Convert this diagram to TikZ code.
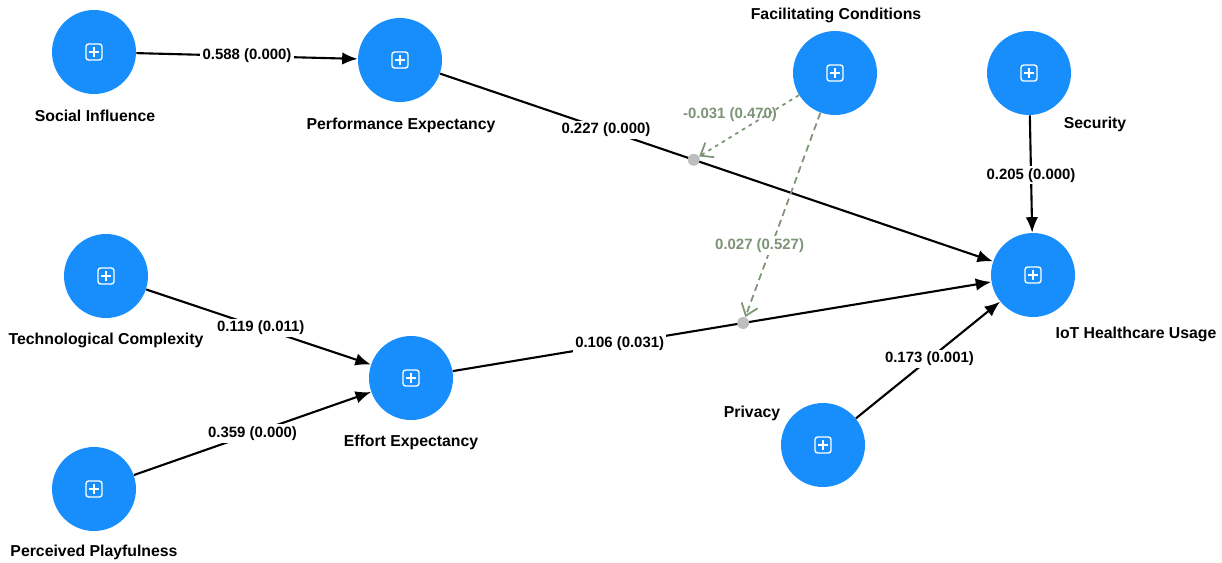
\documentclass[tikz,border=0pt]{standalone}
\usepackage{fontspec}
\setmainfont{Liberation Sans}
\usepackage{tikz}
\usetikzlibrary{arrows.meta,calc,positioning}
\definecolor{latent}{RGB}{24,142,252}
\definecolor{modgreen}{RGB}{125,148,118}
\definecolor{dotgray}{RGB}{190,190,190}

\begin{document}
\begin{tikzpicture}[x=0.02cm, y=-0.02cm, line join=round, >=Latex,
    construct/.style={circle, fill=latent, draw=none, minimum size=1.68cm, inner sep=0pt},
    cname/.style={font=\fontsize{9}{10}\selectfont\bfseries, text=black},
    elabel/.style={font=\fontsize{8.5}{10}\selectfont\bfseries, fill=white, inner sep=1.2pt, text=black},
    mlabel/.style={elabel, text=modgreen},
    path/.style={line width=1.2pt, black, -{Latex[length=3.1mm,width=2.5mm]}},
    moddot/.style={circle, minimum size=0.24cm, inner sep=0pt},
    modpath/.style={line width=1pt, modgreen, -{Straight Barb[length=2.2mm,width=3.4mm]}}]
    \useasboundingbox (0,0) rectangle (1222,562);

    % latent variables
    \node[construct] (SI) at (94,52) {};
    \node[construct] (PE) at (400,60) {};
    \node[construct] (FC) at (835,73) {};
    \node[construct] (SEC) at (1029,73) {};
    \node[construct] (IOT) at (1033,275) {};
    \node[construct] (TC) at (106,276) {};
    \node[construct] (EE) at (411,378) {};
    \node[construct] (PRI) at (823,445) {};
    \node[construct] (PP) at (94,489) {};

    % plus icons
    \foreach \n in {SI,PE,FC,SEC,IOT,TC,EE,PRI,PP} {
        \draw[white, line width=0.8pt, rounded corners=1.5pt] ($(\n)+(-8,-8)$) rectangle ($(\n)+(8,8)$);
        \draw[white, line width=0.8pt] ($(\n)+(-5,0)$) -- ($(\n)+(5,0)$) ($(\n)+(0,-5)$) -- ($(\n)+(0,5)$);
    }

    % names
    \node[cname] (SIname) at (95,116) {Social Influence};
    \node[cname] (PEname) at (401,125) {Performance Expectancy};
    \node[cname] (FCname) at (836,15) {Facilitating Conditions};
    \node[cname] (SECname) at (1095,124) {Security};
    \node[cname] (IOTname) at (1136,334) {IoT Healthcare Usage};
    \node[cname] (TCname) at (106,340) {Technological Complexity};
    \node[cname] (EEname) at (411,442) {Effort Expectancy};
    \node[cname] (PRIname) at (752,413) {Privacy};
    \node[cname] (PPname) at (94,552) {Perceived Playfulness};

    % interaction terms sit on the structural paths
    \node[moddot] (M1) at ($(PE)!0.464!(IOT)$) {};
    \node[moddot] (M2) at ($(EE)!0.534!(IOT)$) {};

    % structural paths
    \draw[path] (SI) -- node[elabel] {0.588 (0.000)} (PE);
    \draw[path] (PE) -- node[elabel, pos=0.3] {0.227 (0.000)} (IOT);
    \draw[path] (SEC) -- node[elabel, pos=0.51] {0.205 (0.000)} (IOT);
    \draw[path] (TC) -- node[elabel, pos=0.51] {0.119 (0.011)} (EE);
    \draw[path] (PP) -- node[elabel] {0.359 (0.000)} (EE);
    \draw[path] (EE) -- node[elabel, pos=0.31] {0.106 (0.031)} (IOT);
    \draw[path] (PRI) -- node[elabel, pos=0.51] {0.173 (0.001)} (IOT);
    \fill[dotgray] (M1) circle (6);
    \fill[dotgray] (M2) circle (6);

    % moderating effects
    \draw[modpath, dash pattern=on 2pt off 2.5pt] (FC) -- (M1);
    \node[mlabel, fill=none] (L1) at (730,115) {-0.031 (0.470)};
    \draw[modpath, dash pattern=on 4pt off 2.5pt] (FC) -- node[mlabel, pos=0.65, xshift=-0.24cm] {0.027 (0.527)} (M2);
\end{tikzpicture}
\end{document}
